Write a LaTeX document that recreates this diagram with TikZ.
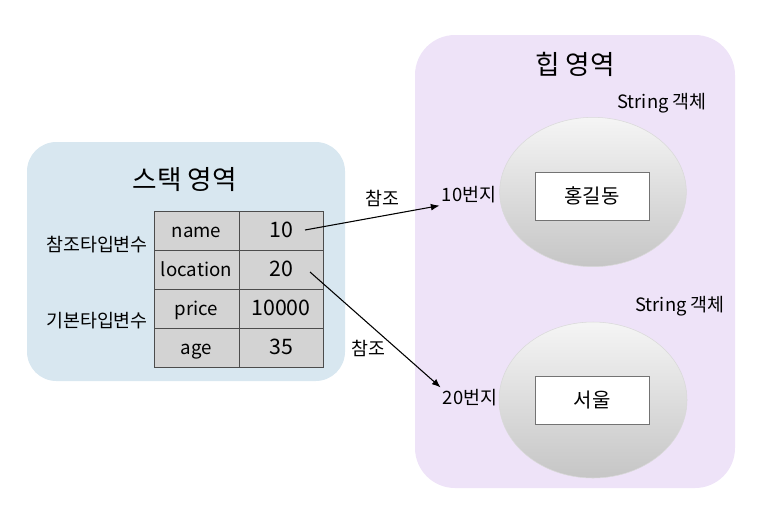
\documentclass[tikz,border=0pt]{standalone}
\usepackage{fontspec}
\setmainfont{Noto Sans CJK KR}
\usetikzlibrary{arrows.meta,shapes.geometric}
\newcommand{\arw}{-{Latex[length=2.3mm,width=1.8mm]}}
\definecolor{stackbg}{HTML}{D8E7F0}
\definecolor{heapbg}{HTML}{EEE3F8}
\definecolor{cellgray}{HTML}{D3D3D3}

\begin{document}
\begin{tikzpicture}[x=.75pt,y=-.75pt,
  title/.style={font=\fontsize{20}{22}\selectfont},
  lbl/.style={font=\fontsize{13.8}{15}\selectfont},
  cell/.style={draw=black!70,fill=cellgray,minimum height=29.25pt,inner sep=0pt,text height=11.5pt,text depth=2.5pt,font=\fontsize{14}{16}\selectfont},
  num/.style={cell,minimum width=63pt,font=\fontsize{16}{18}\selectfont},
  obj/.style={ellipse,draw=black!15,top color=gray!8,bottom color=gray!45,inner sep=0pt},
  val/.style={draw=black!55,fill=white,minimum width=85.5pt,minimum height=36pt,font=\fontsize{15}{17}\selectfont},
  adr/.style={lbl,inner sep=1.5pt}]
\useasboundingbox (0,0) rectangle (767,512);
%areas
\fill[stackbg,rounded corners=22pt] (27,142) rectangle (345,381);
\fill[heapbg,rounded corners=30pt] (415,35) rectangle (735,488);
\node[title] (st) at (185,180) {스택 영역};
\node[title] (hp) at (575,64) {힙 영역};
%stack table
\node[cell,minimum width=63.75pt] (name) at (196.5,231) {name};
\node[num] (namev) at (281,231) {10};
\node[cell,minimum width=63.75pt] (loc) at (196.5,270) {location};
\node[num] (locv) at (281,270) {20};
\node[cell,minimum width=63.75pt] (price) at (196.5,309) {price};
\node[num] (pricev) at (281,309) {10000};
\node[cell,minimum width=63.75pt] (age) at (196.5,348) {age};
\node[num] (agev) at (281,348) {35};
\node[lbl] (reft) at (97,245) {참조타입변수};
\node[lbl] (baset) at (97,321) {기본타입변수};
%heap objects
\node[lbl] (cls1) at (662,103) {String 객체};
\node[obj,minimum width=140pt,minimum height=112pt] (obj1) at (593,192) {};
\node[val] (str1) at (592,196) {홍길동};
\node[adr] (adr1) at (469,195) {10번지};
\node[lbl] (cls2) at (680,306) {String 객체};
\node[obj,minimum width=141pt,minimum height=117pt] (obj2) at (593,400) {};
\node[val] (str2) at (592,400) {서울};
\node[adr] (adr2) at (470,398) {20번지};
%references
\coordinate (s1) at (305,230);
\coordinate (s2) at (310,272);
\draw[\arw,line width=.8pt] (s1) -- (adr1.south west);
\draw[\arw,line width=.8pt] (s2) -- (adr2.north west);
\node[lbl] (r1) at (382,198) {참조};
\node[lbl] (r2) at (368,348) {참조};
\end{tikzpicture}
\end{document}
